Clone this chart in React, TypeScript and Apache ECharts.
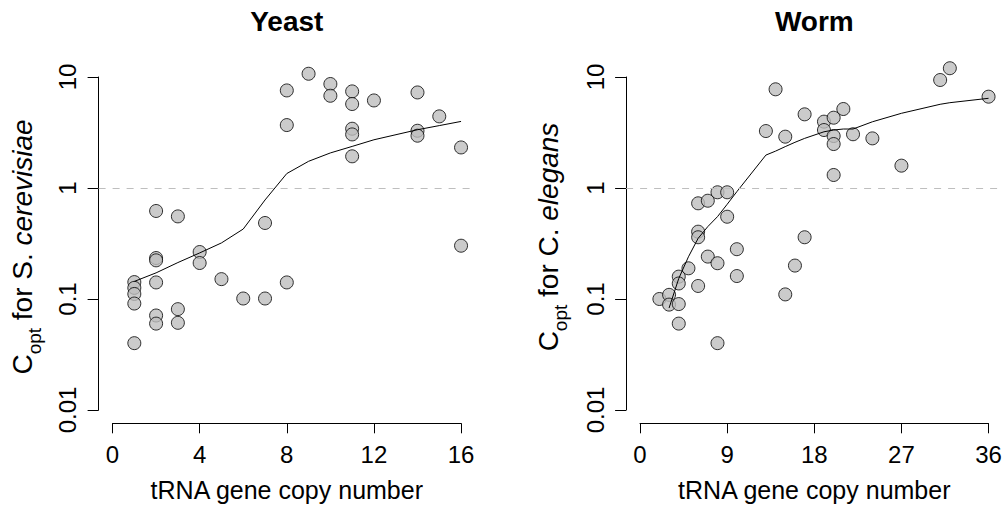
import React, { useEffect, useRef } from "react";
import * as echarts from "echarts";

// ---- Data ----
const yeastCopies = [1, 1, 1, 1, 1, 2, 2, 2, 2, 2, 2, 3, 3, 3, 4, 4, 5, 6, 7, 7, 8, 8, 8, 9, 10, 10, 11, 11, 11, 11, 11, 12, 14, 14, 14, 15, 16, 16];
const yeastCopt = [0.142, 0.126, 0.111, 0.091, 0.04, 0.621, 0.234, 0.223, 0.141, 0.071, 0.06, 0.555, 0.081, 0.061, 0.265, 0.211, 0.151, 0.101, 0.484, 0.101, 7.57, 3.69, 0.141, 10.7, 8.65, 6.78, 7.42, 5.71, 3.42, 3.04, 1.93, 6.15, 7.26, 3.28, 2.96, 4.42, 2.32, 0.302];
const yeastFitX = [1, 2, 3, 4, 5, 6, 7, 8, 9, 10, 11, 12, 14, 15, 16];
const yeastFitY = [0.144, 0.172, 0.213, 0.26, 0.32, 0.427, 0.78, 1.35, 1.74, 2.07, 2.37, 2.72, 3.35, 3.65, 3.98];

const wormCopies = [2, 3, 3, 4, 4, 4, 4, 5, 6, 6, 6, 6, 7, 7, 8, 8, 8, 9, 9, 10, 10, 13, 14, 15, 15, 16, 17, 17, 19, 19, 20, 20, 20, 20, 21, 22, 24, 27, 31, 32, 36];
const wormCopt = [0.1, 0.109, 0.089, 0.159, 0.138, 0.09, 0.06, 0.189, 0.728, 0.404, 0.36, 0.131, 0.768, 0.241, 0.915, 0.21, 0.04, 0.915, 0.551, 0.281, 0.161, 3.26, 7.75, 2.9, 0.11, 0.2, 4.61, 0.36, 3.96, 3.33, 4.3, 2.94, 2.49, 1.31, 5.15, 3.05, 2.8, 1.59, 9.4, 12.0, 6.65];
const wormFitX = [3, 4, 5, 6, 7, 8, 9, 10, 13, 14, 15, 16, 17, 19, 20, 21, 22, 24, 27, 31, 32, 36];
const wormFitY = [0.083, 0.153, 0.24, 0.352, 0.449, 0.552, 0.713, 0.927, 1.98, 2.15, 2.36, 2.58, 2.8, 3.21, 3.33, 3.4, 3.4, 3.95, 4.71, 5.68, 5.87, 6.43];

const yeastXTicks = { min: 0, max: 16, interval: 4 };
const wormXTicks = { min: 0, max: 36, interval: 9 };
const yTicks = { min: 0.01, max: 10 };
const threshold = 1;

const titles = ["Yeast", "Worm"];
const xLabel = "tRNA gene copy number";
const species = [
  { genus: "S.", name: "cerevisiae" },
  { genus: "C.", name: "elegans" },
];

const FONT = "'Liberation Sans', Arial, Helvetica, sans-serif";

const zip = (a: number[], b: number[]) => a.map((v, i) => [v, b[i]]);

export default function App() {
  const ref = useRef<HTMLDivElement>(null);
  useEffect(() => {
    if (!ref.current) return;
    const chart = echarts.init(ref.current, undefined, { renderer: "svg" });

    const panels = [
      { left: 98.6, x0: 112.5, ticks: yeastXTicks },
      { left: 626.1, x0: 640, ticks: wormXTicks },
    ];
    const W = 376.4;
    const top = 63.7;
    const H = 359.6;
    const axW = 348.5;

    const grids: any[] = [];
    const xAxes: any[] = [];
    const yAxes: any[] = [];
    const hidden = (gi: number, type = "value") => ({ type, gridIndex: gi, show: false, min: 0, max: 1, axisLine: { onZero: false } });

    panels.forEach((p, k) => {
      const g = k * 3;
      const span = p.ticks.max - p.ticks.min;
      const ext = span * 0.04;
      grids.push({ left: p.left, top, width: W, height: H, containLabel: false, outerBoundsMode: "none" });
      xAxes.push({ type: "value", gridIndex: g, show: false, min: p.ticks.min - ext, max: p.ticks.max + ext, axisLine: { onZero: false } });
      yAxes.push({ type: "log", logBase: 10, gridIndex: g, show: false, min: Math.pow(10, -2.12), max: Math.pow(10, 1.12), axisLine: { onZero: false } });
      grids.push({ left: p.x0, top, width: axW, height: H, containLabel: false, outerBoundsMode: "none" });
      xAxes.push({
        type: "value", gridIndex: g + 1, min: p.ticks.min, max: p.ticks.max, interval: p.ticks.interval,
        axisLine: { show: true, onZero: false, lineStyle: { color: "#000", width: 1 } },
        axisTick: { show: true, length: 10, inside: false, lineStyle: { color: "#000", width: 1 } },
        axisLabel: { show: true, margin: 19, fontSize: 24, color: "#000", fontFamily: FONT, showMinLabel: true, showMaxLabel: true, hideOverlap: false },
        splitLine: { show: false },
      });
      yAxes.push(hidden(g + 1));
      grids.push({ left: p.left, top: 77, width: W, height: 333, containLabel: false, outerBoundsMode: "none" });
      xAxes.push(hidden(g + 2));
      yAxes.push({
        type: "log", logBase: 10, gridIndex: g + 2, min: yTicks.min, max: yTicks.max,
        axisLine: { show: true, onZero: false, lineStyle: { color: "#000", width: 1 } },
        axisTick: { show: true, length: 11, inside: false, lineStyle: { color: "#000", width: 1 } },
        axisLabel: {
          show: true, rotate: 90, margin: 19, fontSize: 24, color: "#000", fontFamily: FONT,
          showMinLabel: true, showMaxLabel: true, hideOverlap: false,
          formatter: (v: number) => String(Number(v.toPrecision(6))),
        },
        splitLine: { show: false },
      });
    });

    const pointStyle = { color: "#BEBEBE", borderColor: "#000", borderWidth: 1 };
    const mark = {
      silent: true, symbol: "none", label: { show: false },
      lineStyle: { color: "#BEBEBE", type: [7, 7], width: 1 },
      data: [{ yAxis: threshold }],
    };

    const series: any[] = [
      { type: "scatter", xAxisIndex: 0, yAxisIndex: 0, data: zip(yeastCopies, yeastCopt), symbol: "circle", symbolSize: 13, itemStyle: pointStyle, markLine: mark, z: 2 },
      { type: "line", xAxisIndex: 0, yAxisIndex: 0, data: zip(yeastFitX, yeastFitY), symbol: "none", lineStyle: { color: "#000", width: 1 }, z: 3 },
      { type: "scatter", xAxisIndex: 3, yAxisIndex: 3, data: zip(wormCopies, wormCopt), symbol: "circle", symbolSize: 13, itemStyle: pointStyle, markLine: mark, z: 2 },
      { type: "line", xAxisIndex: 3, yAxisIndex: 3, data: zip(wormFitX, wormFitY), symbol: "none", lineStyle: { color: "#000", width: 1 }, z: 3 },
    ];

    const centers = [98.6 + W / 2, 626.1 + W / 2];
    const ylabX = [22, 548];
    const ylabY = [247, 237];
    const rich = {
      n: { fontSize: 28, fontFamily: FONT, color: "#000", lineHeight: 44, verticalAlign: "middle" },
      s: { fontSize: 19, fontFamily: FONT, color: "#000", lineHeight: 44, verticalAlign: "bottom" },
      i: { fontSize: 28, fontFamily: FONT, fontStyle: "italic", color: "#000", lineHeight: 44, verticalAlign: "middle" },
    };
    const graphic: any[] = [];
    [0, 1].forEach((k) => {
      graphic.push({ type: "text", x: centers[k], y: 21, style: { text: titles[k], fontSize: 28, fontWeight: "bold", fontFamily: FONT, fill: "#000", align: "center", verticalAlign: "middle" } });
      graphic.push({ type: "text", x: centers[k], y: 490, style: { text: xLabel, fontSize: 25, fontFamily: FONT, fill: "#000", align: "center", verticalAlign: "middle" } });
      graphic.push({
        type: "text", x: ylabX[k], y: ylabY[k], rotation: Math.PI / 2,
        style: { text: `{n|C}{s|opt}{n| for ${species[k].genus} }{i|${species[k].name}}`, rich, align: "center", verticalAlign: "middle" },
      });
    });

    chart.setOption({
      animation: false,
      backgroundColor: "#fff",
      textStyle: { fontFamily: FONT },
      grid: grids,
      xAxis: xAxes,
      yAxis: yAxes,
      series,
      graphic,
    });
    return () => chart.dispose();
  }, []);
  return <div ref={ref} style={{ position: "absolute", left: 0, top: 0, width: 1004, height: 513 }} />;
}
